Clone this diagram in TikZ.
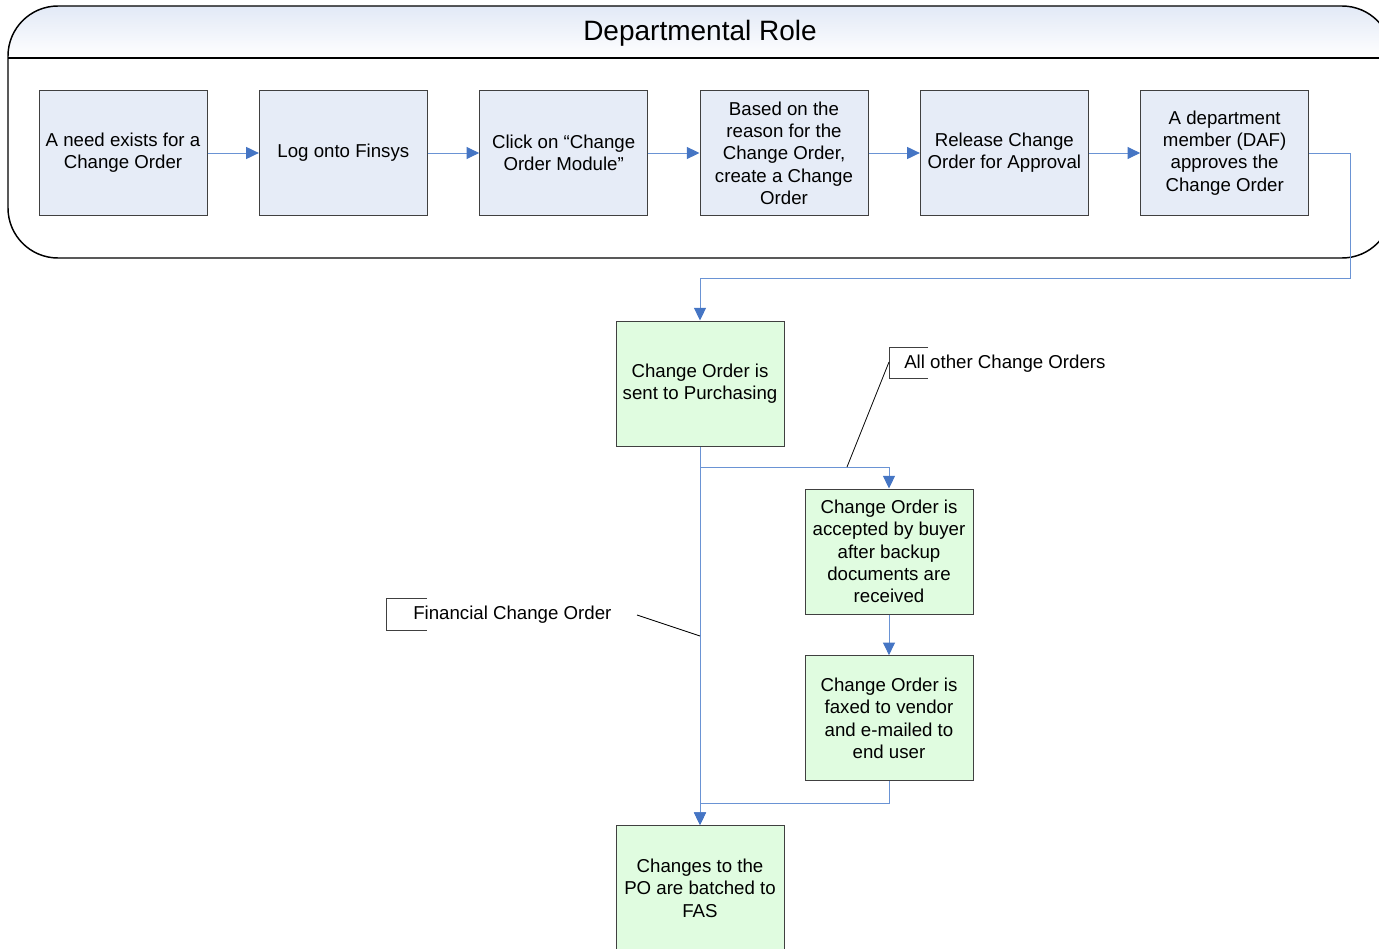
\documentclass[tikz,border=0pt]{standalone}
\usepackage{fontspec}
\setmainfont{Liberation Sans}
\usetikzlibrary{arrows.meta,positioning}
\definecolor{taskblue}{HTML}{E6ECF7}
\definecolor{taskgreen}{HTML}{E0FCE0}
\definecolor{flowline}{HTML}{6A93D4}
\definecolor{flowhead}{HTML}{4575C4}
\definecolor{boxedge}{HTML}{404040}
\definecolor{headtop}{HTML}{E2E9F6}
\tikzset{
  taskbox/.style={draw=boxedge, fill=taskblue, align=center, line width=0.75pt,
    minimum width=126pt, minimum height=93.75pt, inner sep=2pt,
    font=\fontsize{14}{16.75}\selectfont},
  greenbox/.style={taskbox, fill=taskgreen},
  flow/.style={-{Triangle[length=9.5pt, width=9pt, color=flowhead]}, draw=flowline, line width=0.75pt},
  note/.style={anchor=west, inner sep=0pt, font=\fontsize{14}{16.75}\selectfont},
  bracket/.style={draw=boxedge, line width=0.75pt},
  leader/.style={draw=black, line width=0.6pt}
}

\begin{document}
\begin{tikzpicture}[x=0.75pt, y=-0.75pt, node distance=38.5pt]
  \useasboundingbox (0,0) rectangle (1379,949);
  \clip (0,0) rectangle (1379,949);
  % swimlane
  \begin{scope}
    \clip[rounded corners=37.5pt] (8,6) rectangle (1392,258);
    \shade[top color=headtop, bottom color=white] (8,6) rectangle (1392,58);
  \end{scope}
  \draw[line width=1.1pt, rounded corners=37.5pt] (8,6) rectangle (1392,258);
  \draw[line width=0.9pt] (8,58) -- (1392,58);
  \node[font=\fontsize{21}{25}\selectfont] (lane) at (700,33.5) {Departmental Role};

  % departmental steps
  \node[taskbox] (need) at (123,153) {A need exists for a\\Change Order};
  \node[taskbox, right=of need] (login) {Log onto Finsys};
  \node[taskbox, right=of login] (module) {Click on “Change\\Order Module”};
  \node[taskbox, right=of module] (create) {Based on the\\reason for the\\Change Order,\\create a Change\\Order};
  \node[taskbox, right=of create] (release) {Release Change\\Order for Approval};
  \node[taskbox, right=of release] (approve) {A department\\member (DAF)\\approves the\\Change Order};
  \draw[flow] (need) -- (login);
  \draw[flow] (login) -- (module);
  \draw[flow] (module) -- (create);
  \draw[flow] (create) -- (release);
  \draw[flow] (release) -- (approve);

  % purchasing
  \node[greenbox] (sent) at (700,383.5) {Change Order is\\sent to Purchasing};
  \node[greenbox] (buyer) at (889,551.5) {Change Order is\\accepted by buyer\\after backup\\documents are\\received};
  \node[greenbox, below=30.5pt of buyer] (faxed) {Change Order is\\faxed to vendor\\and e-mailed to\\end user};
  \node[greenbox] (batch) at (700,888) {Changes to the\\PO are batched to\\FAS};

  \coordinate (turn) at (1350,278);
  \coordinate (split) at (700,467);
  \coordinate (merge) at (700,803);
  \draw[flow] (approve.east) -| (turn) -| (sent.north);
  \draw[flow] (sent.south) -- (batch.north);
  \draw[flow] (split) -| (buyer.north);
  \draw[flow] (buyer) -- (faxed);
  \draw[flow] (faxed.south) |- (merge) -- (batch.north);

  % annotations
  \node[note] (other) at (904,363.5) {All other Change Orders};
  \draw[bracket] (928,347) -- (889,347) -- (889,378) -- (928,378);
  \draw[leader] (889,362) -- (847,467);
  \node[note] (financial) at (413,615) {Financial Change Order};
  \draw[bracket] (427,598) -- (386,598) -- (386,630) -- (427,630);
  \draw[leader] (637,615) -- (700,636);
\end{tikzpicture}
\end{document}
